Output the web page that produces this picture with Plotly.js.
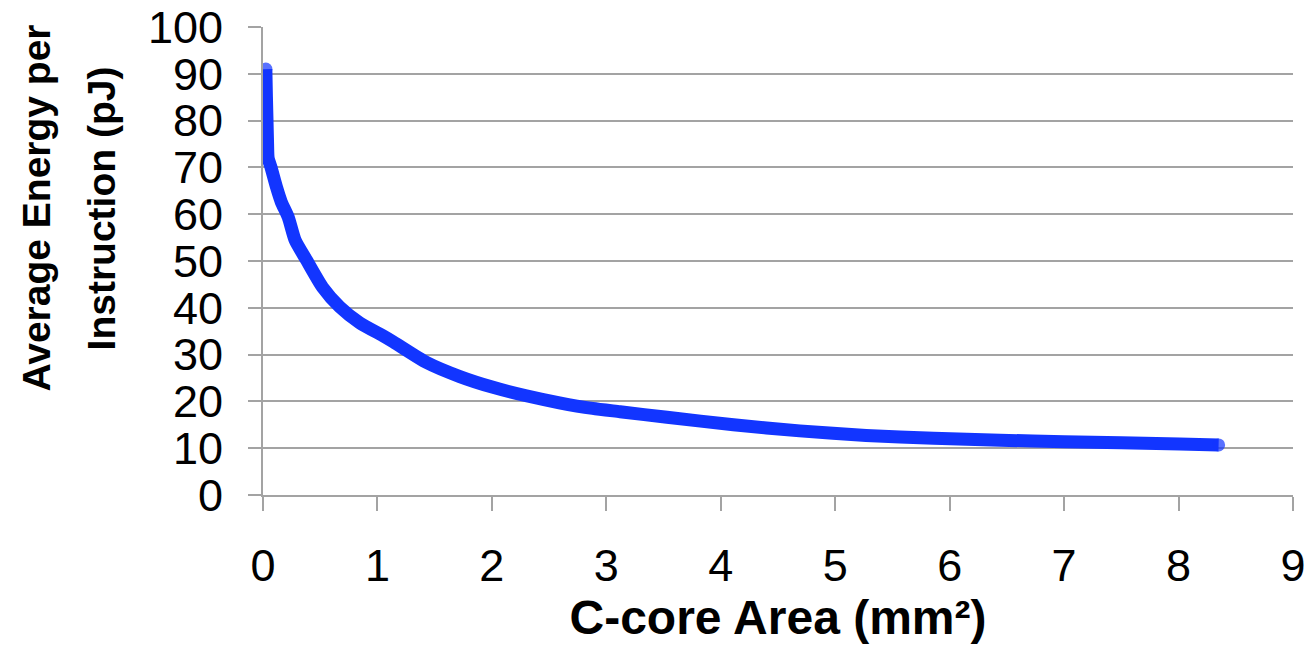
<!DOCTYPE html>
<html>
<head>
<meta charset="utf-8">
<script src="https://cdn.plot.ly/plotly-3.0.1.min.js"></script>
<style>
html,body{margin:0;padding:0;background:#fff;}
#chart{width:1308px;height:655px;}
</style>
</head>
<body>
<div id="chart"></div>
<script>
// C-core area (mm^2)
const areaValues = [0.025, 0.03, 0.035, 0.04, 0.045, 0.07, 0.12, 0.16, 0.22, 0.28, 0.38, 0.52, 0.67, 0.845, 1.05, 1.14, 1.43, 1.72, 2.01, 2.30, 2.59, 2.88, 3.12, 3.53, 4.11, 4.69, 5.27, 5.86, 6.44, 7.0, 8.01, 8.35];
// Average energy per instruction (pJ)
const energyValues = [91, 85, 80, 75, 72, 70, 65.6, 62.6, 59.4, 54.5, 50.2, 44.4, 40.2, 36.8, 34.0, 32.7, 28.3, 25.3, 23.0, 21.2, 19.7, 18.5, 17.8, 16.6, 15.0, 13.7, 12.7, 12.1, 11.7, 11.4, 10.9, 10.7];
const xTickValues = [0, 1, 2, 3, 4, 5, 6, 7, 8, 9];
const yTickValues = [0, 10, 20, 30, 40, 50, 60, 70, 80, 90, 100];
const xTitle = 'C-core Area (mm²)';
const yTitleLines = ['Average Energy per', 'Instruction (pJ)'];

const FONT = '"Liberation Sans", Arial, sans-serif';
const BLUE = '#1235FF';
const GRAY = '#a3a3a3';

const capSizes = areaValues.map((v, i) => (i === 0 || i === areaValues.length - 1) ? 13 : 0);

const trace = {
  x: areaValues,
  y: energyValues,
  type: 'scatter',
  mode: 'lines+markers',
  line: {color: BLUE, width: 13, shape: 'spline', smoothing: 0.6},
  marker: {color: BLUE, size: capSizes, line: {width: 0}},
  hoverinfo: 'x+y'
};

const yTitleX = [-0.220, -0.157];
const annotations = yTitleLines.map((t, i) => ({
  text: t,
  xref: 'paper', yref: 'paper',
  x: yTitleX[i], y: 0.613,
  xanchor: 'center', yanchor: 'middle',
  textangle: -90,
  showarrow: false,
  font: {family: FONT, size: 39, color: '#000', weight: 'bold'}
}));

const layout = {
  width: 1308,
  height: 655,
  margin: {l: 263, r: 15, t: 27, b: 160},
  paper_bgcolor: '#ffffff',
  plot_bgcolor: '#ffffff',
  showlegend: false,
  font: {family: FONT, color: '#000'},
  xaxis: {
    range: [0, 9],
    tickvals: xTickValues,
    ticktext: xTickValues.map(String),
    showgrid: false,
    zeroline: false,
    showline: true,
    linecolor: GRAY,
    linewidth: 2,
    ticks: 'outside',
    ticklen: 14,
    tickwidth: 2,
    tickcolor: GRAY,
    tickfont: {family: FONT, size: 45, color: '#000'},
    ticklabelstandoff: 16,
    title: {text: xTitle, font: {family: FONT, size: 48, color: '#000', weight: 'bold'}, standoff: 2},
    automargin: false,
    fixedrange: true
  },
  yaxis: {
    range: [0, 100],
    tickvals: yTickValues,
    ticktext: yTickValues.map(String),
    showgrid: true,
    gridcolor: GRAY,
    gridwidth: 2,
    zeroline: false,
    showline: true,
    linecolor: GRAY,
    linewidth: 2,
    ticks: 'outside',
    ticklen: 13,
    tickwidth: 2,
    tickcolor: GRAY,
    tickfont: {family: FONT, size: 45, color: '#000'},
    ticklabelstandoff: 16,
    automargin: false,
    fixedrange: true
  },
  annotations: annotations
};

Plotly.newPlot('chart', [trace], layout, {displayModeBar: false, staticPlot: true});
</script>
</body>
</html>
